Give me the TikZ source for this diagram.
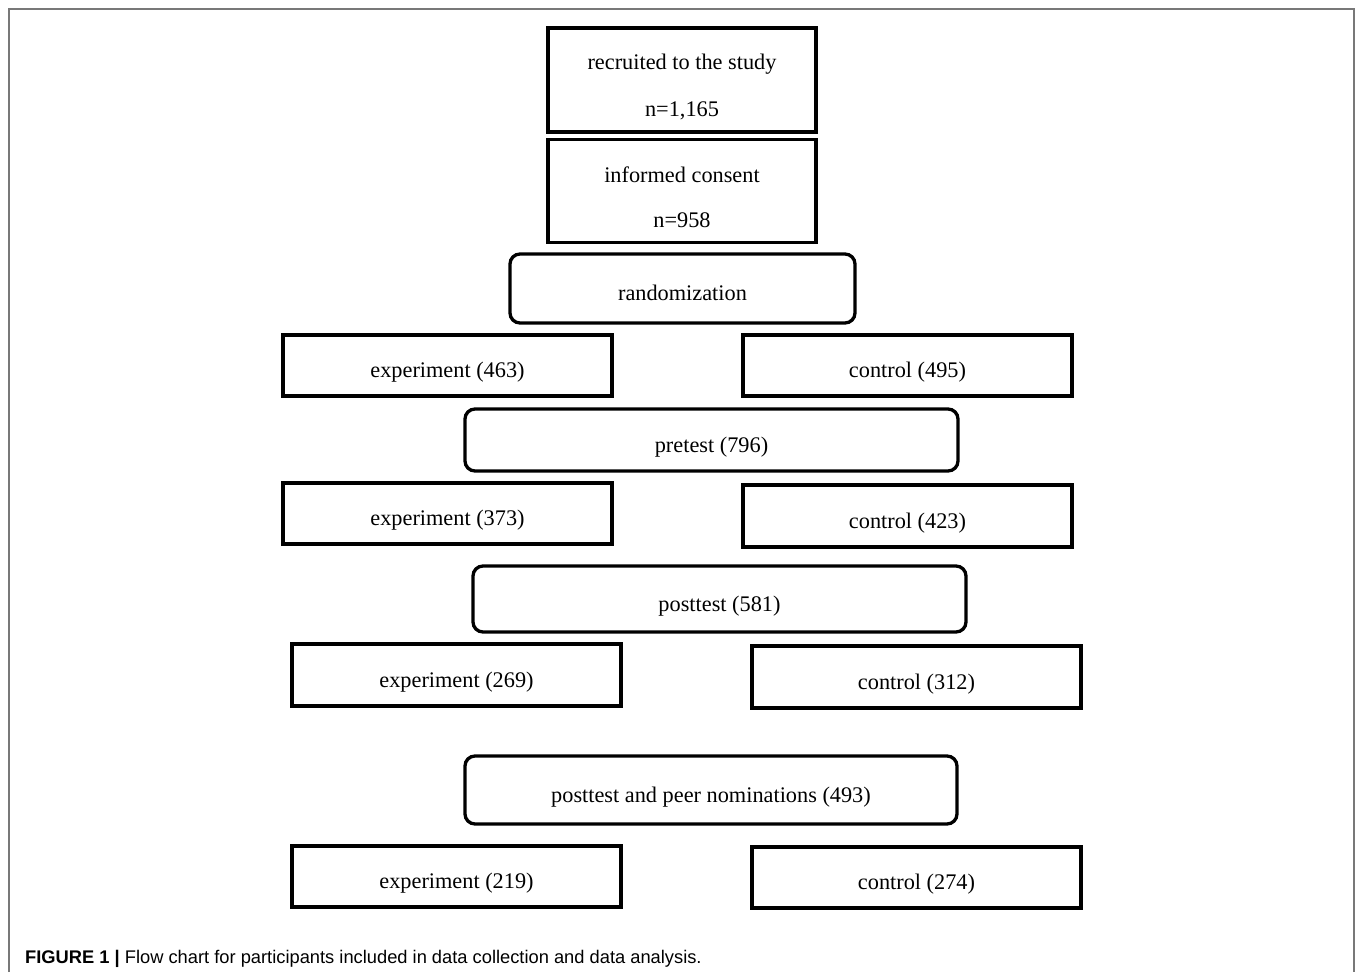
\documentclass[tikz,border=0pt]{standalone}
\usepackage{fontspec}
\setmainfont{Liberation Serif}
\newfontfamily\capfont{Liberation Sans}
\definecolor{framegray}{RGB}{120,120,120}
\begin{document}
\begin{tikzpicture}[x=1pt,y=-1pt,
  flowbox/.style={draw=black, line width=3.3pt, inner sep=0pt,
    text height=24pt, text depth=0pt,
    font=\fontsize{22.3}{26}\selectfont},
  roundbox/.style={flowbox, rounded corners=10pt},
  plainbox/.style={draw=black, line width=3.3pt, inner sep=0pt},
  lbl/.style={inner sep=0pt, anchor=base, font=\fontsize{22.3}{26}\selectfont},
  captxt/.style={inner sep=0pt, anchor=base west, font=\capfont\fontsize{18.3}{22}\selectfont}
]
\useasboundingbox (0,0) rectangle (1357,972);
% outer frame
\draw[framegray, line width=1.5pt] (9,972) -- (9,9) -- (1354,9) -- (1354,972);

% top boxes
\node[plainbox, minimum width=268pt, minimum height=104pt] (recruit) at (682,80) {};
\node[lbl] (recruitA) at (682,69) {recruited to the study};
\node[lbl] (recruitB) at (682,116) {n=1,165};
\node[plainbox, minimum width=268pt, minimum height=103pt] (consent) at (682,191) {};
\node[lbl] (consentA) at (682,182) {informed consent};
\node[lbl] (consentB) at (682,227) {n=958};

\node[roundbox, minimum width=345pt, minimum height=69pt] (rand) at (682.5,288.5) {randomization};

\node[flowbox, minimum width=329pt, minimum height=61pt] (exp1) at (447.5,365.5) {experiment (463)};
\node[flowbox, minimum width=329pt, minimum height=61pt] (con1) at (907.5,365.5) {control (495)};

\node[roundbox, minimum width=493pt, minimum height=62pt] (pre) at (711.5,440) {pretest (796)};

\node[flowbox, minimum width=329pt, minimum height=61pt] (exp2) at (447.5,513.5) {experiment (373)};
\node[flowbox, minimum width=329pt, minimum height=62pt] (con2) at (907.5,516) {control (423)};

\node[roundbox, minimum width=493pt, minimum height=66pt] (post) at (719.5,599) {posttest (581)};

\node[flowbox, minimum width=329pt, minimum height=62pt] (exp3) at (456.5,675) {experiment (269)};
\node[flowbox, minimum width=329pt, minimum height=62pt] (con3) at (916.5,677) {control (312)};

\node[roundbox, minimum width=492pt, minimum height=68pt] (peer) at (711,790) {posttest and peer nominations (493)};

\node[flowbox, minimum width=329pt, minimum height=61pt] (exp4) at (456.5,876.5) {experiment (219)};
\node[flowbox, minimum width=329pt, minimum height=61pt] (con4) at (916.5,877.5) {control (274)};

% caption
\node[captxt] (caption) at (25,963) {\textbf{FIGURE 1 |} Flow chart for participants included in data collection and data analysis.};
\end{tikzpicture}
\end{document}
